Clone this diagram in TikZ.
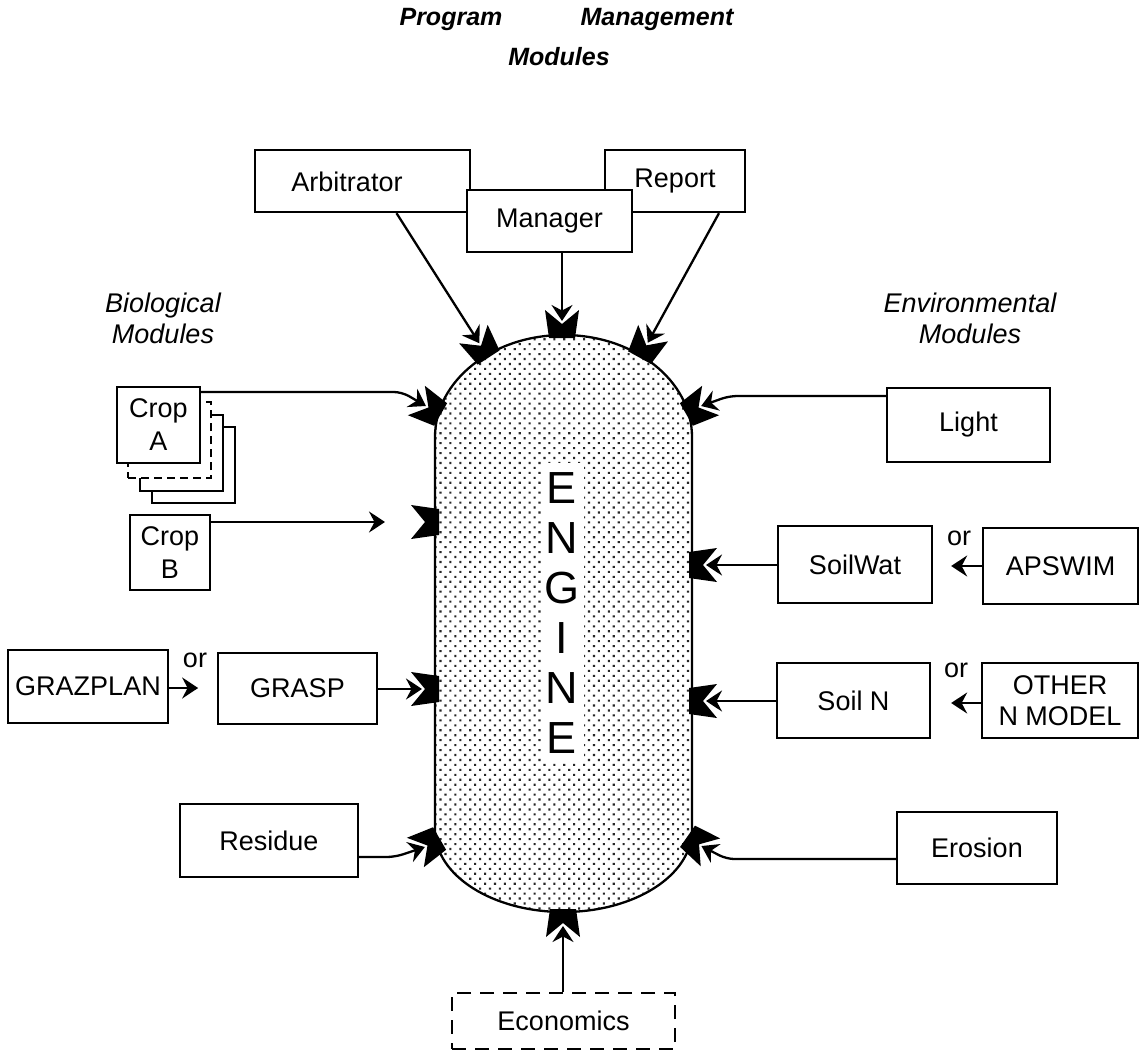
\documentclass[tikz,border=0pt]{standalone}
\usepackage{fontspec}
\setmainfont{Liberation Sans}
\usetikzlibrary{arrows.meta,patterns.meta,calc}
\newcommand\labfont{\fontsize{27}{33}\selectfont}
\newcommand\ttlfont{\fontsize{25}{28}\selectfont\bfseries\itshape}
\newcommand\grpfont{\fontsize{27}{31}\selectfont\itshape}
\newcommand\engfont{\fontsize{45}{50}\selectfont}
\tikzset{
  dock/.pic={
    \fill[black] (-17,-25) -- (0,-11) -- (17,-25) -- (13,3) -- (-13,3) -- cycle;
    \coordinate (-tip) at (0,-14);
  }
}
\begin{document}
\begin{tikzpicture}[x=1pt,y=-1pt,
  box/.style={draw, fill=white, line width=2.3pt, inner sep=0pt, align=center, font=\labfont},
  arr/.style={line width=2.3pt, -{Stealth[length=16pt,width=21pt,inset=5.5pt]}},
  lbl/.style={inner sep=0pt, font=\labfont},
  grp/.style={inner sep=0pt, align=center, font=\grpfont}]
\fill[white] (0,0) rectangle (1141,1052);
\useasboundingbox (0,0) rectangle (1141,1052);

% titles
\node[inner sep=0pt, font=\ttlfont] (t1) at (451,19) {Program};
\node[inner sep=0pt, font=\ttlfont] (t2) at (657,19) {Management};
\node[inner sep=0pt, font=\ttlfont] (t3) at (559,57) {Modules};
\node[grp] (bio) at (163,318) {Biological\\Modules};
\node[grp] (env) at (970,318) {Environmental\\Modules};

% engine
\path[draw=black, line width=2.3pt, pattern={Dots[distance=7pt,radius=1.5pt,angle=45]}, pattern color=black!85]
  (435,437) .. controls (435,380.7) and (492.5,335) .. (563.5,335)
  .. controls (634.5,335) and (692,380.7) .. (692,437)
  -- (692,830)
  .. controls (692,875.3) and (634.5,912) .. (563.5,912)
  .. controls (492.5,912) and (435,875.3) .. (435,830) -- cycle;
\node[fill=white, inner sep=0pt, minimum width=43pt, minimum height=300pt, align=center, font=\engfont] (eng) at (562,613) {E\\N\\G\\I\\N\\E};

% docks
\pic (dM) [rotate=0] at (562,335) {dock};
\pic (dAr) [rotate=33] at (487,355) {dock};
\pic (dR) [rotate=-29] at (641,355) {dock};
\pic (dA) [rotate=60] at (438,413) {dock};
\pic (dL) [rotate=-60] at (689,413) {dock};
\pic (dB) [rotate=90] at (436,522) {dock};
\pic (dG) [rotate=90] at (436,689) {dock};
\pic (dSW) [rotate=-90] at (692,565) {dock};
\pic (dSN) [rotate=-90] at (692,701) {dock};
\pic (dRs) [rotate=120] at (437,840) {dock};
\pic (dEr) [rotate=-125] at (690,838) {dock};
\pic (dE) [rotate=180] at (563,912) {dock};

% top boxes
\node[box, minimum width=215pt, minimum height=62pt] (arb) at (362.5,181) {};
\node[lbl] (arbT) at (347,182) {Arbitrator};
\node[box, minimum width=140pt, minimum height=62pt] (rep) at (675,181) {Report};
\node[box, minimum width=165pt, minimum height=62pt] (mgr) at (549.5,221) {Manager};

% crop stack
\node[box, minimum width=83pt, minimum height=76pt] (crA4) at (193.5,465) {};
\node[box, minimum width=83pt, minimum height=76pt] (crA3) at (181.5,453) {};
\node[box, minimum width=83pt, minimum height=76pt, dash pattern=on 8pt off 5pt] (crA2) at (169.5,440) {};
\node[box, minimum width=83pt, minimum height=76pt] (cra) at (158.5,425) {Crop\\A};
\node[box, minimum width=80pt, minimum height=75pt] (crb) at (170,552.5) {Crop\\B};

% left boxes
\node[box, minimum width=160pt, minimum height=73pt] (gzp) at (88,686.5) {GRAZPLAN};
\node[box, minimum width=159pt, minimum height=71pt] (grasp) at (297.5,688.5) {GRASP};
\node[box, minimum width=178pt, minimum height=73pt] (res) at (269,840.5) {Residue};
\node[lbl] (orL) at (195,660) {or};

% right boxes
\node[box, minimum width=163pt, minimum height=74pt] (light) at (968.5,425) {Light};
\node[box, minimum width=154pt, minimum height=77pt] (sw) at (855,564.5) {SoilWat};
\node[box, minimum width=155pt, minimum height=76pt] (aps) at (1060.5,566) {APSWIM};
\node[box, minimum width=153pt, minimum height=75pt] (sn) at (853.5,700.5) {Soil N};
\node[box, minimum width=156pt, minimum height=75pt, font=\fontsize{27}{31}\selectfont] (oth) at (1060,700.5) {OTHER\\N MODEL};
\node[box, minimum width=160pt, minimum height=72pt] (ero) at (977,848) {Erosion};
\node[lbl] (orW) at (959,538) {or};
\node[lbl] (orN) at (956,670) {or};

% bottom
\node[box, minimum width=223pt, minimum height=56pt, dash pattern=on 14pt off 9pt] (eco) at (563.5,1021) {Economics};

% arrows
\draw[arr] (dM-tip |- mgr.south) -- (dM-tip);
\draw[arr] ($(arb.south)+(34,0)$) -- (dAr-tip);
\draw[arr] ($(rep.south)+(44,0)$) -- (dR-tip);

\coordinate (bA) at ($(dA-tip)+(-24,-14)$);
\draw[arr, rounded corners=8pt] (bA -| cra.east) -- (bA) -- (dA-tip);
\coordinate (cbEnd) at ($(dB-tip)+(-37,0)$);
\draw[arr] (cbEnd -| crb.east) -- (cbEnd);
\draw[arr] (grasp.east |- dG-tip) -- (dG-tip);
\coordinate (gzEnd) at ($(gzp.east)+(29,1.5)$);
\draw[arr] (gzEnd -| gzp.east) -- (gzEnd);
\coordinate (bRs) at ($(dRs-tip)+(-30,10)$);
\draw[arr, rounded corners=8pt] (bRs -| res.east) -- (bRs) -- (dRs-tip);

\coordinate (bL) at ($(dL-tip)+(28,-10)$);
\draw[arr, rounded corners=8pt] (bL -| light.west) -- (bL) -- (dL-tip);
\draw[arr] (sw.west |- dSW-tip) -- (dSW-tip);
\coordinate (swEnd) at ($(sw.east)+(18,1.5)$);
\draw[arr] (swEnd -| aps.west) -- (swEnd);
\draw[arr] (sn.west |- dSN-tip) -- (dSN-tip);
\coordinate (snEnd) at ($(sn.east)+(20,2.5)$);
\draw[arr] (snEnd -| oth.west) -- (snEnd);
\coordinate (bEr) at ($(dEr-tip)+(25,13)$);
\draw[arr, rounded corners=8pt] (bEr -| ero.west) -- (bEr) -- (dEr-tip);

\draw[arr] (dE-tip |- eco.north) -- (dE-tip);
\end{tikzpicture}
\end{document}
